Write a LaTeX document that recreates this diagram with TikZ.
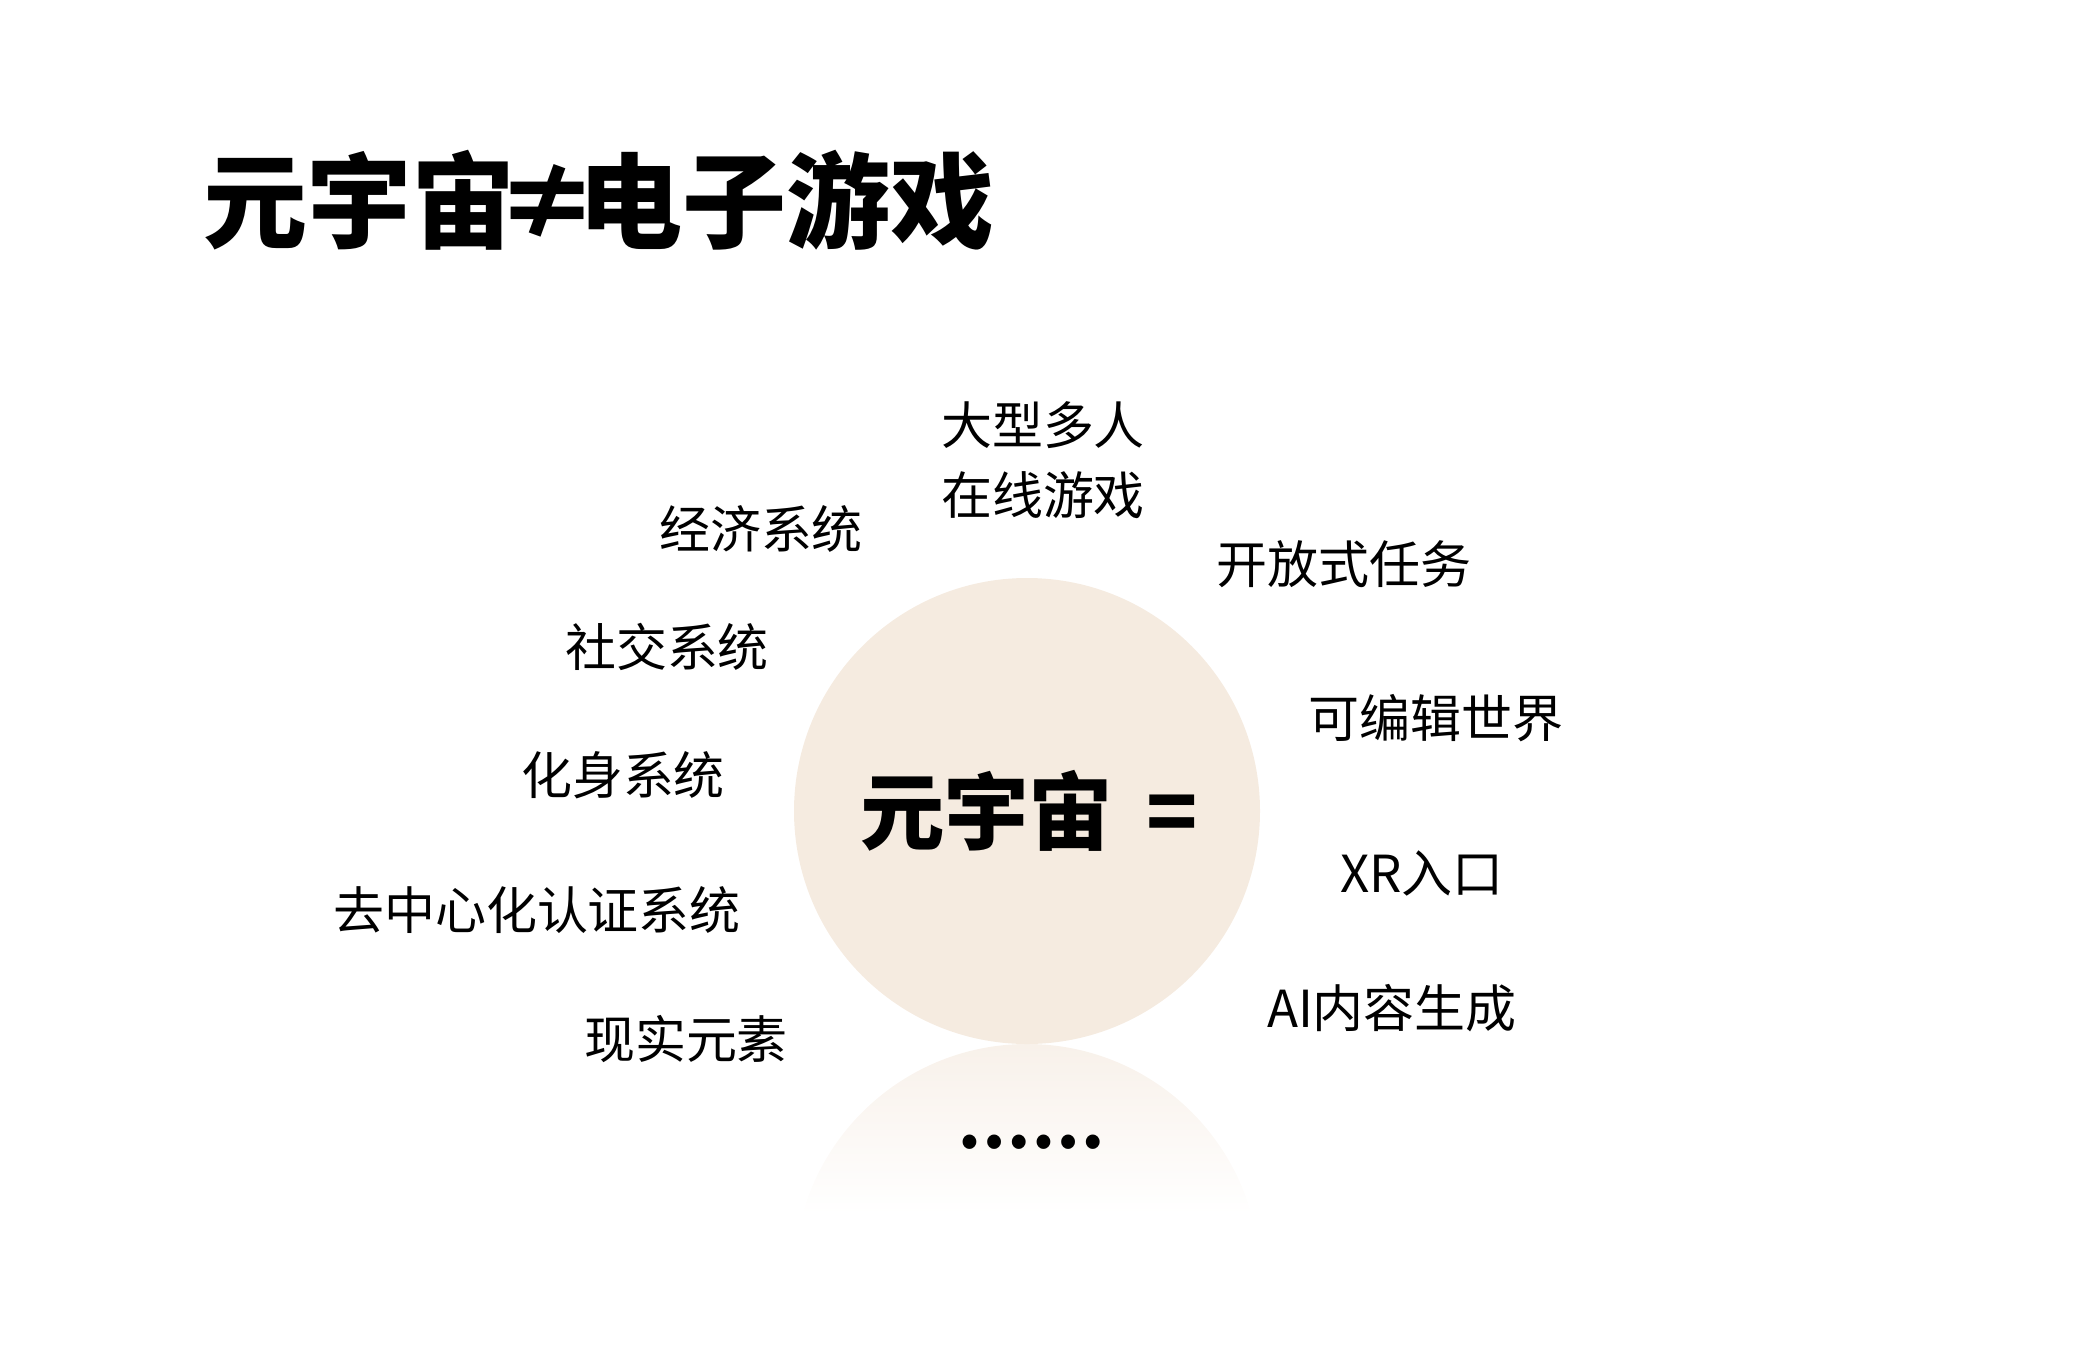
\documentclass[tikz,border=0pt]{standalone}
\usepackage{fontspec}
\setmainfont{Noto Sans CJK SC}
\usepackage{tikz}
\usetikzlibrary{positioning}
\usepackage{xcolor}
\definecolor{sand}{HTML}{F5EBE0}
\definecolor{sandfade}{HTML}{F8F1EA}

\begin{document}
\begin{tikzpicture}[
    x=0.01cm, y=-0.01cm,
    item/.style={inner sep=0pt, align=center, font=\fontsize{14.5pt}{19.8pt}\selectfont},
    core/.style={inner sep=0pt, font=\fontsize{24pt}{28pt}\selectfont\bfseries},
    headline/.style={inner sep=0pt, anchor=west, font=\fontsize{29.6pt}{36pt}\selectfont\bfseries}
]
\useasboundingbox (0,0) rectangle (2096,1357);

% Title
\node[headline] (title) at (203,200) {元宇宙\kern-0.2em≠\kern-0.2em电子游戏};

% Reflection under the circle
\begin{scope}
  \clip (1027,1277) circle (233);
  \shade[top color=sandfade, bottom color=white] (790,1044) rectangle (1264,1215);
\end{scope}

% Circle
\fill[sand] (1027,811) circle (233);
\node[core] (meta) at (1029,811) {元宇宙 \,=};
\node[core, font=\fontsize{18.5pt}{22pt}\selectfont\bfseries] (more) at (1031,1142) {……};

% Left items
\node[item] (econ) at (761,529) {经济系统};
\node[item] (social) at (667,647) {社交系统};
\node[item] (avatar) at (623,775) {化身系统};
\node[item] (did) at (537,910) {去中心化认证系统};
\node[item] (real) at (686,1039) {现实元素};

% Right items
\node[item] (mmo) at (1043,460) {大型多人\\在线游戏};
\node[item] (quest) at (1344,564) {开放式任务};
\node[item] (edit) at (1436,718) {可编辑世界};
\node[item] (xr) at (1422,873) {XR入口};
\node[item] (aigc) at (1392,1008) {AI内容生成};

\end{tikzpicture}
\end{document}
